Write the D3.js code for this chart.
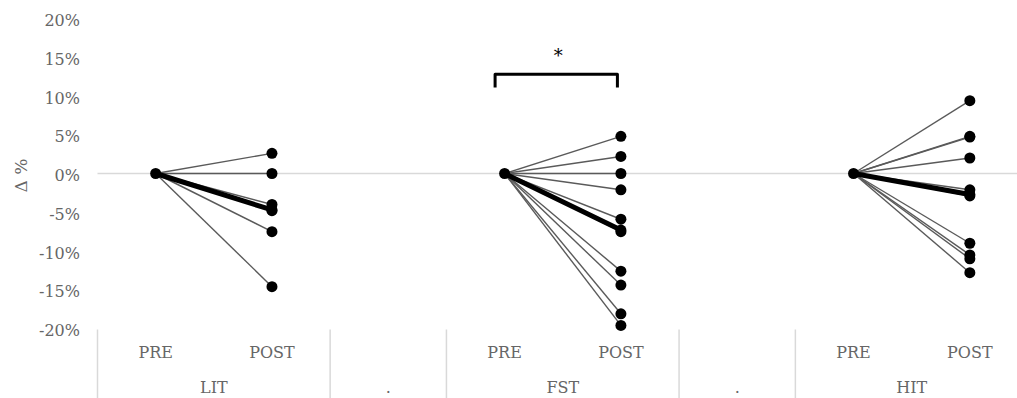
<!DOCTYPE html>
<html>
<head>
<meta charset="utf-8">
<script src="https://cdn.jsdelivr.net/npm/d3@7"></script>
<style>
  html, body { margin: 0; padding: 0; background: #fff; }
  svg { display: block; }
  text { font-family: "DejaVu Serif", serif; fill: #666; }
</style>
</head>
<body>
<svg id="chart" width="1017" height="398"></svg>
<script>
// Category axis: outer groups, inner time points
const groupNames = ["LIT", ".", "FST", ".", "HIT"];
const timepoints = ["PRE", "POST"];

// Change from baseline (%) per participant, PRE is the 0% reference
const preValue = 0;
const litPost = [2.6, 0, -4.0, -4.8, -7.5, -14.6];
const fstPost = [4.8, 2.2, 0, -2.1, -5.9, -7.5, -12.6, -14.4, -18.1, -19.6];
const hitPost = [9.4, 4.8, 4.7, 2.0, -2.1, -2.9, -9.0, -10.5, -11.0, -12.8];

// Group mean change at POST
const meanPost = [-4.7, -7.3, -2.7];

// Y axis ticks
const yTicks = [20, 15, 10, 5, 0, -5, -10, -15, -20];

const svg = d3.select("#chart");
const plot = { left: 97.5, right: 1028, top: 18.5, bottom: 328.5 };

// Flattened category slots
const slots = [];
groupNames.forEach((g, gi) => {
  if (g === ".") slots.push({ key: "gap" + gi, group: g, label: "" });
  else timepoints.forEach(t => slots.push({ key: g + "|" + t, group: g, label: t }));
});

const x = d3.scaleBand()
  .domain(slots.map(s => s.key))
  .range([plot.left, plot.right])
  .paddingInner(0).paddingOuter(0);

const y = d3.scaleLinear().domain([-20, 20]).range([plot.bottom, plot.top]);

const cx = key => x(key) + x.bandwidth() / 2;

// Zero reference line
svg.append("line")
  .attr("x1", plot.left).attr("x2", 1017)
  .attr("y1", y(0)).attr("y2", y(0))
  .attr("stroke", "#d9d9d9").attr("stroke-width", 1.5);

// Y axis labels
const yAxis = d3.axisLeft(y).tickValues(yTicks).tickSize(0).tickPadding(0)
  .tickFormat(d => d + "%");
const yg = svg.append("g").attr("transform", `translate(${80},0)`).call(yAxis);
yg.select(".domain").remove();
yg.selectAll("text")
  .attr("font-family", "DejaVu Serif, serif")
  .attr("font-size", 16)
  .attr("fill", "#666")
  .attr("dy", "0.45em");

// Y axis title
svg.append("text")
  .attr("transform", `translate(27,${y(0) + 2}) rotate(-90)`)
  .attr("text-anchor", "middle")
  .attr("font-size", 17)
  .text("Δ %");

// Category axis: group dividers and labels
const groupSpans = [];
groupNames.forEach((g, gi) => {
  const own = g === "." ? ["gap" + gi] : timepoints.map(t => g + "|" + t);
  const x0 = x(own[0]);
  const x1 = x(own[own.length - 1]) + x.bandwidth();
  groupSpans.push({ name: g, x0, x1 });
});

const dividers = [plot.left].concat(groupSpans.slice(0, -1).map(s => s.x1));
svg.append("g").selectAll("line").data(dividers).join("line")
  .attr("x1", d => d).attr("x2", d => d)
  .attr("y1", plot.bottom + 1).attr("y2", 398)
  .attr("stroke", "#d9d9d9").attr("stroke-width", 1.5);

svg.append("g").selectAll("text").data(slots.filter(s => s.label)).join("text")
  .attr("x", d => cx(d.key)).attr("y", 358)
  .attr("text-anchor", "middle")
  .attr("font-size", 16)
  .text(d => d.label);

svg.append("g").selectAll("text").data(groupSpans).join("text")
  .attr("x", d => (d.x0 + d.x1) / 2).attr("y", 393)
  .attr("text-anchor", "middle")
  .attr("font-size", 16)
  .text(d => d.name);

// Paired lines and points per group
const groupsData = [
  { name: "LIT", post: litPost, mean: meanPost[0] },
  { name: "FST", post: fstPost, mean: meanPost[1] },
  { name: "HIT", post: hitPost, mean: meanPost[2] }
];

groupsData.forEach(g => {
  const xPre = cx(g.name + "|PRE");
  const xPost = cx(g.name + "|POST");
  const gg = svg.append("g");
  gg.selectAll("line.ind").data(g.post).join("line")
    .attr("class", "ind")
    .attr("x1", xPre).attr("y1", y(preValue))
    .attr("x2", xPost).attr("y2", d => y(d))
    .attr("stroke", "#5a5a5a").attr("stroke-width", 1.4);
  gg.append("line")
    .attr("x1", xPre).attr("y1", y(preValue))
    .attr("x2", xPost).attr("y2", y(g.mean))
    .attr("stroke", "#000").attr("stroke-width", 5)
    .attr("stroke-linecap", "round");
  gg.append("circle")
    .attr("cx", xPre).attr("cy", y(preValue)).attr("r", 5.5).attr("fill", "#000");
  gg.selectAll("circle.post").data(g.post.concat([g.mean])).join("circle")
    .attr("class", "post")
    .attr("cx", xPost).attr("cy", d => y(d)).attr("r", 5.5).attr("fill", "#000");
});

// Significance bracket over FST
const bx0 = cx("FST|PRE") - 9.5;
const bx1 = cx("FST|POST") - 3.5;
svg.append("path")
  .attr("d", `M${bx0},${y(11.1)} V${y(12.8)} H${bx1} V${y(11.1)}`)
  .attr("fill", "none").attr("stroke", "#000").attr("stroke-width", 3)
  .attr("stroke-linejoin", "round");
svg.append("text")
  .attr("x", (bx0 + bx1) / 2 + 2).attr("y", 62)
  .attr("text-anchor", "middle")
  .attr("font-size", 18)
  .style("fill", "#000")
  .text("*");
</script>
</body>
</html>
